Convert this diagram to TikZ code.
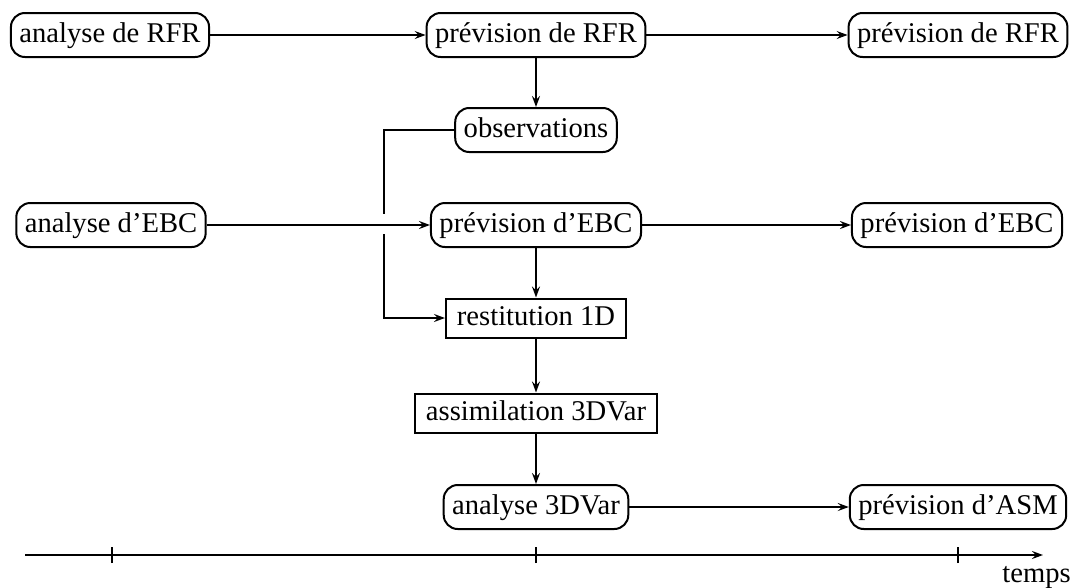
\documentclass[tikz,border=0pt]{standalone}
\usepackage{fontspec}
\setmainfont{Liberation Serif}
\usetikzlibrary{arrows.meta}
\begin{document}
\begin{tikzpicture}[x=1pt,y=-1pt,
  every node/.style={font=\fontsize{28.6}{34}\selectfont, text height=20.5pt, text depth=6.5pt},
  rbox/.style={draw, line width=2pt, rounded corners=14pt, inner xsep=8.5pt, inner ysep=8.5pt},
  sbox/.style={draw, line width=2pt, inner xsep=11pt, inner ysep=6pt},
  conn/.style={line width=2pt, -{Stealth[length=11pt,width=8pt,inset=4pt]}},
  plain/.style={line width=2pt}]
\useasboundingbox (0,0) rectangle (1079,587);
\node[rbox] (aR) at (110,35) {analyse de RFR};
\node[rbox] (pR) at (536,35) {prévision de RFR};
\node[rbox] (pR2) at (958,35) {prévision de RFR};
\node[rbox] (obs) at (536,130) {observations};
\node[rbox] (aE) at (111,225) {analyse d’EBC};
\node[rbox] (pE) at (536,225) {prévision d’EBC};
\node[rbox] (pE2) at (957,225) {prévision d’EBC};
\node[sbox] (rest) at (536,318) {restitution 1D};
\node[sbox] (assim) at (536,413) {assimilation 3DVar};
\node[rbox] (a3) at (536,507) {analyse 3DVar};
\node[rbox] (pA) at (958,507) {prévision d’ASM};
\coordinate (c1) at (384,130);
\coordinate (c2) at (384,214);
\coordinate (c3) at (384,234);
\coordinate (c4) at (384,318);
\draw[conn] (aR) -- (pR);
\draw[conn] (pR) -- (pR2);
\draw[conn] (pR) -- (obs);
\draw[conn] (aE) -- (pE);
\draw[conn] (pE) -- (pE2);
\draw[conn] (pE) -- (rest);
\draw[conn] (rest) -- (assim);
\draw[conn] (assim) -- (a3);
\draw[conn] (a3) -- (pA);
\draw[plain] (obs.west) -- (c1) -- (c2);
\draw[conn] (c3) -- (c4) -- (rest.west);
% time axis
\coordinate (t0) at (25,555);
\coordinate (t1) at (1043,555);
\draw[conn] (t0) -- (t1);
\foreach \xx in {112,536,958} {
  \coordinate (tk\xx) at (\xx,555);
  \draw[line width=1.4pt] ([yshift=-8pt]tk\xx) -- ([yshift=8pt]tk\xx);
}
\node[anchor=base east, inner sep=0pt] (temps) at (1071,582) {temps};
\end{tikzpicture}
\end{document}
